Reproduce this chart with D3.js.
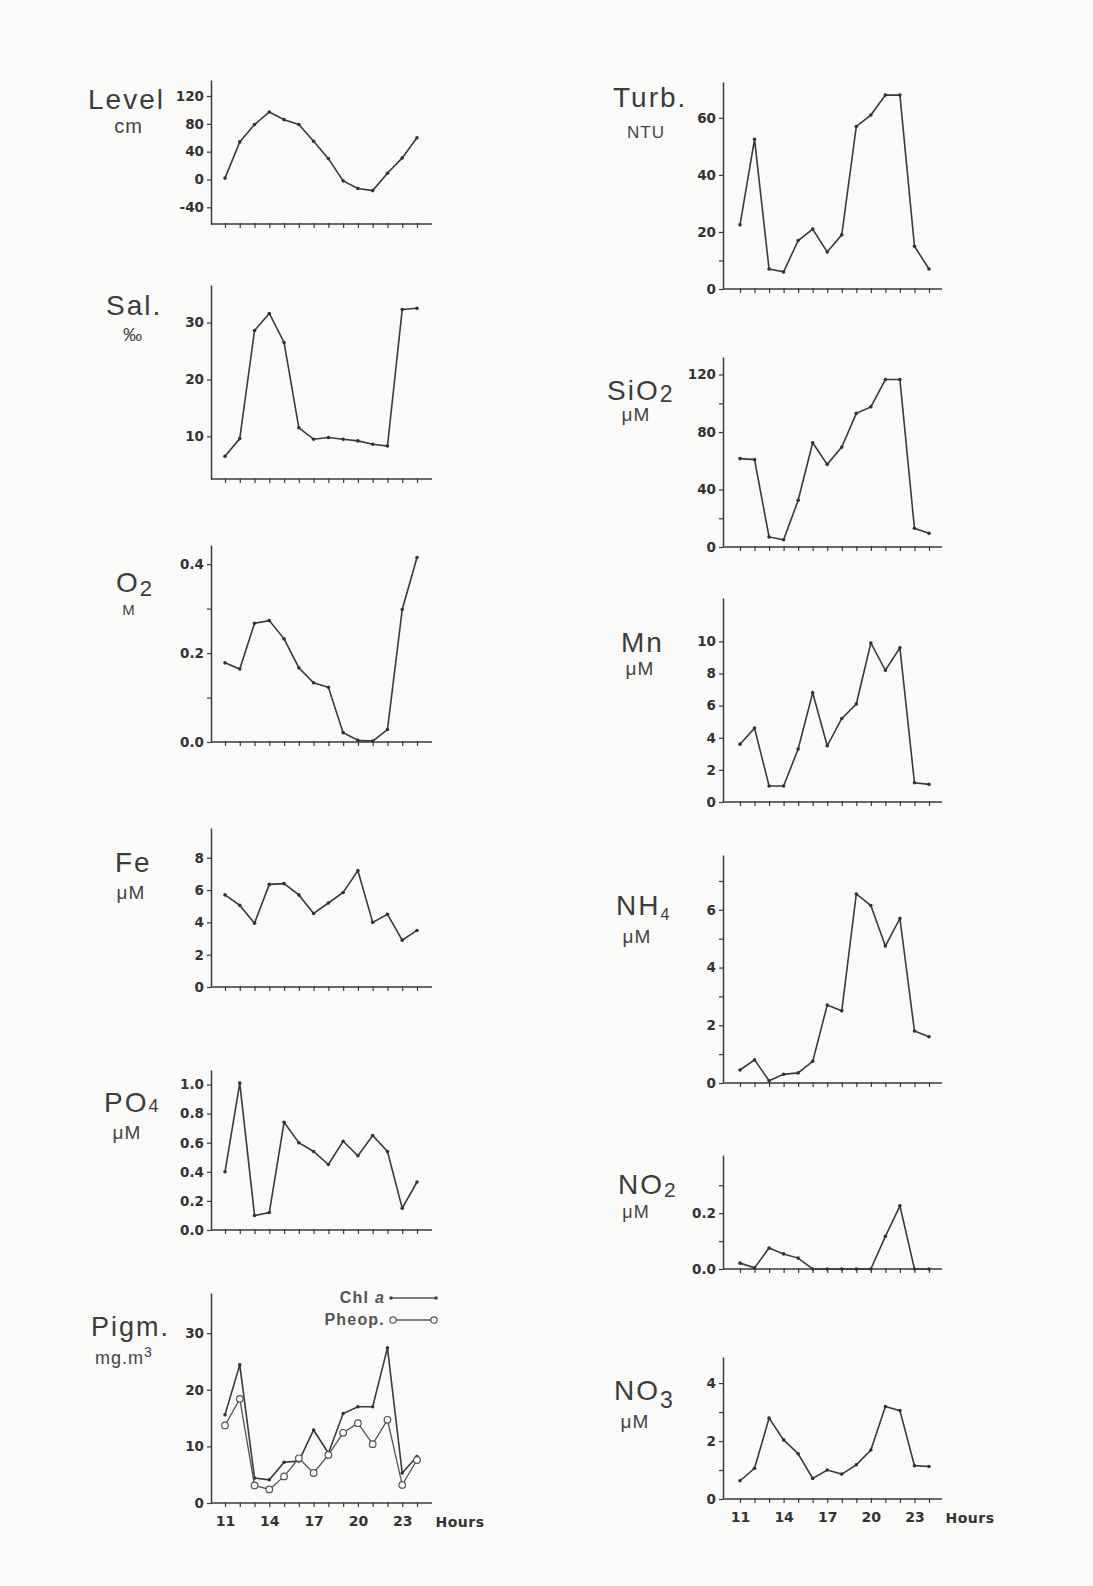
<!DOCTYPE html>
<html>
<head>
<meta charset="utf-8">
<script src="https://cdn.jsdelivr.net/npm/d3@7"></script>
<style>
  body { margin: 0; background: #fafaf8; }
  svg { display: block; }
  .tick text { font-family: "DejaVu Sans", sans-serif; font-weight: bold; font-size: 13.5px; fill: #333; }
  .title { font-family: "Liberation Sans", Arial, sans-serif; fill: #3c3c3c; letter-spacing: 2px; }
  .unit { font-family: "Liberation Sans", Arial, sans-serif; fill: #444; letter-spacing: 1px; }
</style>
</head>
<body>
<svg id="chart" width="1093" height="1586"></svg>
<script>
// hours of sampling
var hours = [11, 12, 13, 14, 15, 16, 17, 18, 19, 20, 21, 22, 23, 24];
var hourLabels = [11, 14, 17, 20, 23];

// left column
var level = [2, 54, 79, 97, 86, 79, 55, 30, -2, -13, -16, 9, 31, 60];
var salinity = [6.5, 9.6, 28.6, 31.6, 26.5, 11.5, 9.5, 9.8, 9.5, 9.2, 8.6, 8.3, 32.3, 32.5];
var oxygen = [0.178, 0.164, 0.267, 0.273, 0.232, 0.167, 0.133, 0.123, 0.021, 0.004, 0.002, 0.028, 0.298, 0.415];
var iron = [5.7, 5.05, 3.95, 6.35, 6.4, 5.7, 4.55, 5.2, 5.85, 7.2, 4.0, 4.5, 2.9, 3.5];
var phosphate = [0.4, 1.01, 0.1, 0.12, 0.74, 0.6, 0.54, 0.45, 0.61, 0.51, 0.65, 0.54, 0.15, 0.33];
var chlA = [15.6, 24.4, 4.4, 4.1, 7.2, 7.4, 12.9, 8.8, 15.8, 17, 17, 27.4, 5.3, 8.2];
var pheop = [13.7, 18.4, 3.1, 2.4, 4.7, 7.9, 5.3, 8.5, 12.4, 14.1, 10.4, 14.7, 3.2, 7.6];

// right column
var turbidity = [22.5, 52.5, 7, 6, 17, 21, 13, 19, 57, 61, 68, 68, 15, 7];
var silicate = [61.5, 60.8, 7, 5, 32.5, 72.5, 57.5, 69.5, 93, 97.5, 116.5, 116.5, 13, 9.5];
var manganese = [3.6, 4.6, 1.0, 1.0, 3.3, 6.8, 3.5, 5.2, 6.1, 9.9, 8.2, 9.6, 1.2, 1.1];
var ammonium = [0.45, 0.8, 0.08, 0.3, 0.35, 0.75, 2.7, 2.5, 6.55, 6.15, 4.75, 5.7, 1.8, 1.6];
var nitrite = [0.021, 0.004, 0.075, 0.054, 0.039, 0, 0, 0, 0, 0, 0.117, 0.226, 0, 0];
var nitrate = [0.63, 1.06, 2.79, 2.04, 1.56, 0.71, 1.0, 0.86, 1.18, 1.69, 3.19, 3.05, 1.15, 1.12];

// y tick values
var levelTicks = [-40, 0, 40, 80, 120];
var salTicks = [10, 20, 30];
var o2Ticks = [0, 0.2, 0.4], o2Minor = [0.1, 0.3];
var feTicks = [0, 2, 4, 6, 8];
var po4Ticks = [0, 0.2, 0.4, 0.6, 0.8, 1.0];
var pigmTicks = [0, 10, 20, 30];
var turbTicks = [0, 20, 40, 60], turbMinor = [10];
var sioTicks = [0, 40, 80, 120], sioMinor = [20, 100];
var mnTicks = [0, 2, 4, 6, 8, 10];
var nh4Ticks = [0, 2, 4, 6], nh4Minor = [1, 3, 5, 7];
var no2Ticks = [0, 0.2], no2Minor = [0.1, 0.3];
var no3Ticks = [0, 2, 4], no3Minor = [1, 3];

var svg = d3.select("#chart");
var ink = "#3a3a3a";

// plain hyphen for negatives, like the original
var intFmt = function (d) { return String(Math.round(d)); };
var dec1 = function (d) { return d.toFixed(1); };

// layout: x0 = y-axis position, xa/xb = hour 11 / hour 24, xe = end of x axis
var L = { x0: 211, xa: 225, xb: 417, xe: 432 };
var R = { x0: 723, xa: 740, xb: 929, xe: 942 };

var panels = [
  { col: L, series: [level], yb: 224, yt: 80, dom: [-64, 143], ticks: levelTicks, fmt: intFmt },
  { col: L, series: [salinity], yb: 479, yt: 285, dom: [2.5, 36.6], ticks: salTicks, fmt: intFmt },
  { col: L, series: [oxygen], yb: 742, yt: 545, dom: [0, 0.443], ticks: o2Ticks, minor: o2Minor, fmt: dec1 },
  { col: L, series: [iron], yb: 987, yt: 828, dom: [0, 9.84], ticks: feTicks, fmt: intFmt },
  { col: L, series: [phosphate], yb: 1230, yt: 1070, dom: [0, 1.1], ticks: po4Ticks, fmt: dec1 },
  { col: L, series: [chlA, pheop], yb: 1503, yt: 1293, dom: [0, 37.1], ticks: pigmTicks, fmt: intFmt, labels: true, pigm: true },
  { col: R, series: [turbidity], yb: 289, yt: 82, dom: [0, 72.6], ticks: turbTicks, minor: turbMinor, fmt: intFmt },
  { col: R, series: [silicate], yb: 547, yt: 357, dom: [0, 132.2], ticks: sioTicks, minor: sioMinor, fmt: intFmt },
  { col: R, series: [manganese], yb: 802, yt: 598, dom: [0, 12.7], ticks: mnTicks, fmt: intFmt },
  { col: R, series: [ammonium], yb: 1083, yt: 855, dom: [0, 7.9], ticks: nh4Ticks, minor: nh4Minor, fmt: intFmt },
  { col: R, series: [nitrite], yb: 1269, yt: 1155, dom: [0, 0.408], ticks: no2Ticks, minor: no2Minor, fmt: dec1 },
  { col: R, series: [nitrate], yb: 1499, yt: 1357, dom: [0, 4.9], ticks: no3Ticks, minor: no3Minor, fmt: intFmt, labels: true }
];

panels.forEach(function (p) {
  var c = p.col;
  var x = d3.scaleLinear().domain([hours[0], hours[hours.length - 1]]).range([c.xa, c.xb]);
  var y = d3.scaleLinear().domain(p.dom).range([p.yb, p.yt]);
  var g = svg.append("g");

  // y axis
  g.append("g").attr("transform", "translate(" + c.x0 + ",0)")
    .call(d3.axisLeft(y).tickValues(p.ticks).tickFormat(p.fmt).tickSize(4).tickPadding(3).tickSizeOuter(0));
  if (p.minor) {
    g.append("g").attr("transform", "translate(" + c.x0 + ",0)")
      .call(d3.axisLeft(y).tickValues(p.minor).tickFormat("").tickSize(4))
      .select(".domain").remove();
  }
  g.selectAll(".domain").attr("stroke", ink).attr("stroke-width", 1.5);
  g.selectAll(".tick line").attr("stroke", ink).attr("stroke-width", 1.2);

  // x axis
  var xa = g.append("g").attr("transform", "translate(0," + p.yb + ")")
    .call(d3.axisBottom(x).tickValues(hours).tickSize(4).tickPadding(6)
      .tickFormat(function (d) { return p.labels && hourLabels.indexOf(d) >= 0 ? d : ""; }));
  xa.select(".domain").remove();
  xa.append("line").attr("x1", c.x0).attr("x2", c.xe).attr("stroke", ink).attr("stroke-width", 1.5);
  xa.selectAll(".tick line").attr("y1", -1).attr("stroke", ink).attr("stroke-width", 1.2);
  xa.selectAll(".tick text").style("font-size", "14px").attr("dy", "0.9em");
  if (p.labels) {
    xa.append("text").attr("x", c.xe + 28).attr("y", 24).attr("text-anchor", "middle")
      .style("font-family", "DejaVu Sans, sans-serif").style("font-weight", "bold")
      .style("font-size", "14px").style("letter-spacing", "0.5px").attr("fill", "#333").text("Hours");
  }

  var line = d3.line().x(function (d, i) { return x(hours[i]); }).y(function (d) { return y(d); });
  p.series.forEach(function (s, k) {
    g.append("path").datum(s).attr("d", line).attr("fill", "none")
      .attr("stroke", k === 0 ? "#3a3a3a" : "#555").attr("stroke-width", k === 0 ? 1.6 : 1.3);
    var open = p.pigm && k === 1;
    g.selectAll(null).data(s).enter().append("circle")
      .attr("cx", function (d, i) { return x(hours[i]); })
      .attr("cy", function (d) { return y(d); })
      .attr("r", open ? 3.3 : 1.8)
      .attr("fill", open ? "#fafaf8" : "#333")
      .attr("stroke", open ? "#555" : "none")
      .attr("stroke-width", 1.2);
  });
});

// titles
function title(x, y, main, sub, subSize, subDy, size) {
  var t = svg.append("text").attr("class", "title").attr("x", x).attr("y", y)
    .style("font-size", (size || 28) + "px").text(main);
  if (sub) t.append("tspan").attr("dy", subDy).style("font-size", subSize + "px").text(sub);
}
function unit(cx, y, txt, size) {
  return svg.append("text").attr("class", "unit").attr("x", cx).attr("y", y)
    .attr("text-anchor", "middle").style("font-size", (size || 19) + "px").text(txt);
}

title(88, 109, "Level");
unit(128.5, 133, "cm", 20);
title(106, 315, "Sal.");
unit(133, 341, "‰", 19);
title(116, 592, "O", "2", 22, 4);
unit(129, 615, "M", 15);
title(115, 872, "Fe");
unit(131, 899, "μM");
title(104, 1112, "PO", "4", 18, 0);
unit(127, 1139, "μM");
title(91, 1336, "Pigm.", null, 0, 0, 27);
var mg = svg.append("text").attr("class", "unit").attr("x", 95).attr("y", 1364).style("font-size", "18px").text("mg.m");
mg.append("tspan").attr("dy", -7).style("font-size", "14px").text("3");

title(613, 107, "Turb.");
unit(646, 138, "NTU", 17);
title(607, 400, "SiO", "2", 23, 2);
unit(636, 421, "μM");
title(621, 652, "Mn");
unit(640, 675, "μM");
title(616, 915, "NH", "4", 16, 5);
unit(637, 943, "μM");
title(618, 1194, "NO", "2", 21, 3);
unit(636, 1218, "μM", 18);
title(614, 1400, "NO", "3", 23, 8);
unit(635, 1428, "μM");

// legend of pigment panel
var lg = svg.append("g").style("font-family", "Liberation Sans, Arial, sans-serif")
  .style("font-weight", "bold").style("font-size", "16px").style("letter-spacing", "1.2px").attr("fill", "#555");
var chl = lg.append("text").attr("x", 385).attr("y", 1303).attr("text-anchor", "end").text("Chl ");
chl.append("tspan").style("font-style", "italic").text("a");
lg.append("text").attr("x", 385).attr("y", 1325).attr("text-anchor", "end").text("Pheop.");
lg.append("line").attr("x1", 391).attr("x2", 436).attr("y1", 1298).attr("y2", 1298).attr("stroke", "#555").attr("stroke-width", 1.3);
lg.selectAll(null).data([391, 436]).enter().append("circle").attr("cx", function (d) { return d; }).attr("cy", 1298).attr("r", 1.8).attr("fill", "#444");
lg.append("line").attr("x1", 393).attr("x2", 434).attr("y1", 1320).attr("y2", 1320).attr("stroke", "#555").attr("stroke-width", 1.3);
lg.selectAll(null).data([393, 434]).enter().append("circle").attr("cx", function (d) { return d; }).attr("cy", 1320).attr("r", 3.2)
  .attr("fill", "#fafaf8").attr("stroke", "#555").attr("stroke-width", 1.2);
</script>
</body>
</html>
